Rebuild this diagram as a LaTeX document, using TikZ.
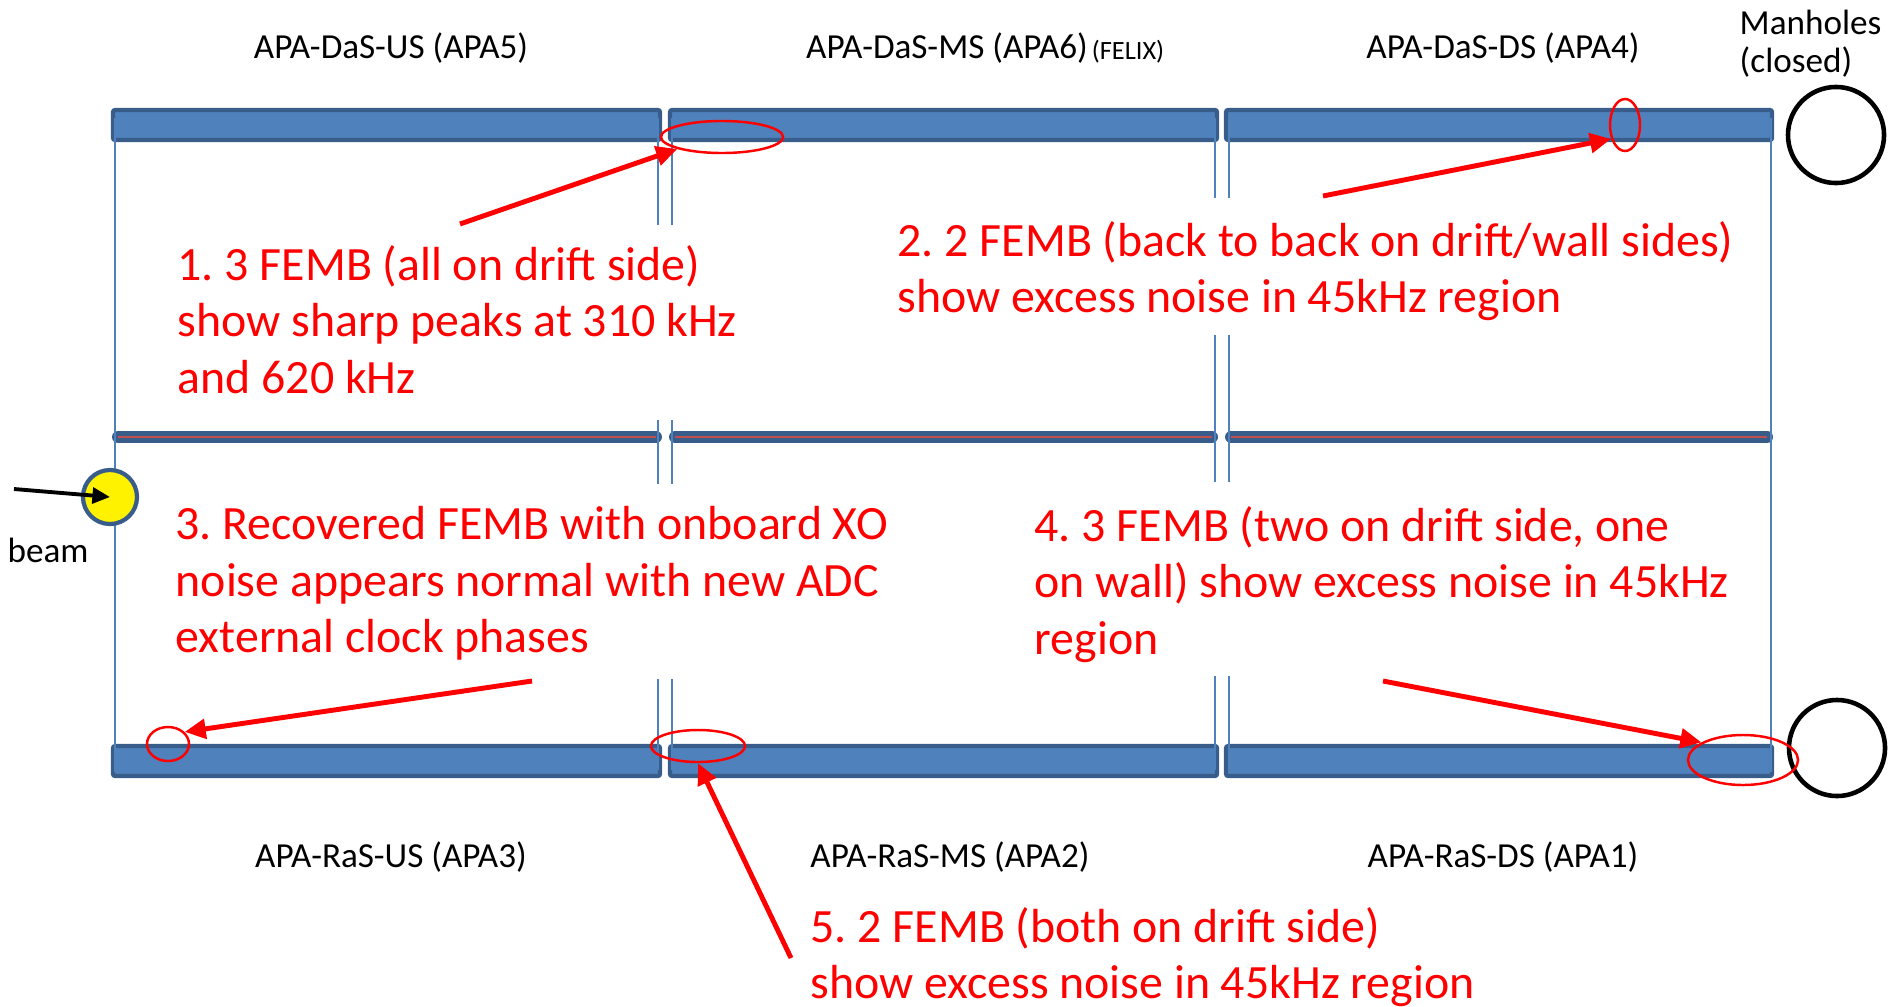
\documentclass[tikz,border=0pt]{standalone}
\usepackage{fontspec}
\setmainfont{Carlito}
\usetikzlibrary{arrows.meta, shapes.geometric}
\definecolor{apafill}{HTML}{4F81BD}
\definecolor{apaedge}{HTML}{385D8A}
\definecolor{cpared}{HTML}{C0504D}
\frenchspacing

\begin{document}
\begin{tikzpicture}[x=0.01cm, y=-0.01cm,
    apa/.style={fill=apafill, draw=apaedge, line width=1.2pt, rounded corners=0.6pt},
    cpa/.style={draw=apaedge, line width=3.4pt, line cap=round},
    frame/.style={draw=apafill, line width=0.75pt},
    lbl/.style={font=\fontsize{10}{12}\selectfont, inner sep=0pt},
    note/.style={red, font=\fontsize{13.6}{16}\selectfont, align=left, anchor=north west, inner sep=0pt},
    hot/.style={ellipse, draw=red, line width=0.7pt, inner sep=0pt},
    pointer/.style={red, line width=1.4pt, -{Triangle[length=6pt, width=5.5pt]}},
    manhole/.style={circle, draw, line width=1.3pt, minimum size=0.96cm, inner sep=0pt}]
    \useasboundingbox (0,0) rectangle (1889,1006);

    % APA labels
    \node[lbl] (apa5) at (391,48) {APA-DaS-US (APA5)};
    \node[lbl] (apa6) at (947,48) {APA-DaS-MS (APA6)};
    \node[lbl, font=\fontsize{7.5}{9}\selectfont] (felix) at (1128,52) {(FELIX)};
    \node[lbl] (apa4) at (1503,48) {APA-DaS-DS (APA4)};
    \node[lbl] (apa3) at (391,857) {APA-RaS-US (APA3)};
    \node[lbl] (apa2) at (950,857) {APA-RaS-MS (APA2)};
    \node[lbl] (apa1) at (1503,857) {APA-RaS-DS (APA1)};
    \node[lbl, align=left, anchor=north west, font=\fontsize{10}{11}\selectfont]
        (mhlbl) at (1739,9) {Manholes\\(closed)};

    % APA frames (top and bottom rows)
    \draw[apa] (113,110) rectangle (660,140);
    \draw[apa] (670,110) rectangle (1217,140);
    \draw[apa] (1226,110) rectangle (1772,140);
    \draw[apa] (113,746) rectangle (660,776);
    \draw[apa] (670,746) rectangle (1217,776);
    \draw[apa] (1226,746) rectangle (1772,776);

    % CPA line in the middle
    \draw[cpa] (118,437) -- (656,437);
    \draw[cpa] (675,437) -- (1212,437);
    \draw[cpa] (1231,437) -- (1767,437);
    \draw[cpared, line width=0.6pt] (118,437) -- (656,437);
    \draw[cpared, line width=0.6pt] (675,437) -- (1212,437);
    \draw[cpared, line width=0.6pt] (1231,437) -- (1767,437);

    % field cage edges
    \draw[frame] (115,118) -- (115,772);
    \draw[frame] (1771,118) -- (1771,772);
    \foreach \gx in {658,672} {
        \draw[frame] (\gx,118) -- (\gx,225);
        \draw[frame] (\gx,420) -- (\gx,484);
        \draw[frame] (\gx,679) -- (\gx,770);
    }
    \foreach \gx in {1215,1229} {
        \draw[frame] (\gx,118) -- (\gx,198);
        \draw[frame] (\gx,335) -- (\gx,482);
        \draw[frame] (\gx,676) -- (\gx,770);
    }

    % manholes
    \node[manhole] (mhtop) at (1836,135) {};
    \node[manhole] (mhbot) at (1837,748) {};

    % beam entry
    \node[circle, fill=yellow, draw=apaedge, line width=1.2pt, minimum size=0.54cm,
        inner sep=0pt] (beam) at (110,497) {};
    \coordinate (beamtail) at (14,489);
    \draw[line width=1.1pt, -{Triangle[length=5pt, width=4.5pt]}] (beamtail) -- (beam.center);
    \node[lbl] (beamlbl) at (48,550) {beam};

    % noisy FEMB locations
    \node[hot, minimum width=1.22cm, minimum height=0.32cm] (hot1) at (722,137) {};
    \node[hot, minimum width=0.30cm, minimum height=0.52cm] (hot2) at (1625,125) {};
    \node[hot, minimum width=0.42cm, minimum height=0.34cm] (hot3) at (168,744) {};
    \node[hot, minimum width=1.10cm, minimum height=0.50cm] (hot4) at (1743,760) {};
    \node[hot, minimum width=0.94cm, minimum height=0.32cm] (hot5) at (698,746) {};

    % notes
    \node[note] (note1) at (177,245) {1. 3 FEMB (all on drift side)\\show sharp peaks at 310 kHz\\and 620 kHz};
    \node[note] (note2) at (897,221) {2. 2 FEMB (back to back on drift/wall sides)\\show excess noise in 45kHz region};
    \node[note] (note3) at (175,506) {3. Recovered FEMB with onboard XO\\noise appears normal with new ADC\\external clock phases};
    \node[note] (note4) at (1034,506) {4. 3 FEMB (two on drift side, one\\on wall) show excess noise in 45kHz\\region};
    \node[note] (note5) at (810,907) {5. 2 FEMB (both on drift side)\\show excess noise in 45kHz region};

    % pointers
    \coordinate (tail1) at (460,224);
    \coordinate (tail2) at (1323,196);
    \coordinate (tail3) at (532,681);
    \coordinate (tail4) at (1383,681);
    \coordinate (tail5) at (791,958);
    \draw[pointer] (tail1) -- (hot1.195);
    \draw[pointer] (tail2) -- (hot2.225);
    \draw[pointer] (tail3) -- (hot3.36);
    \draw[pointer] (tail4) -- (hot4.157);
    \draw[pointer] (tail5) -- (hot5.south);
\end{tikzpicture}
\end{document}
